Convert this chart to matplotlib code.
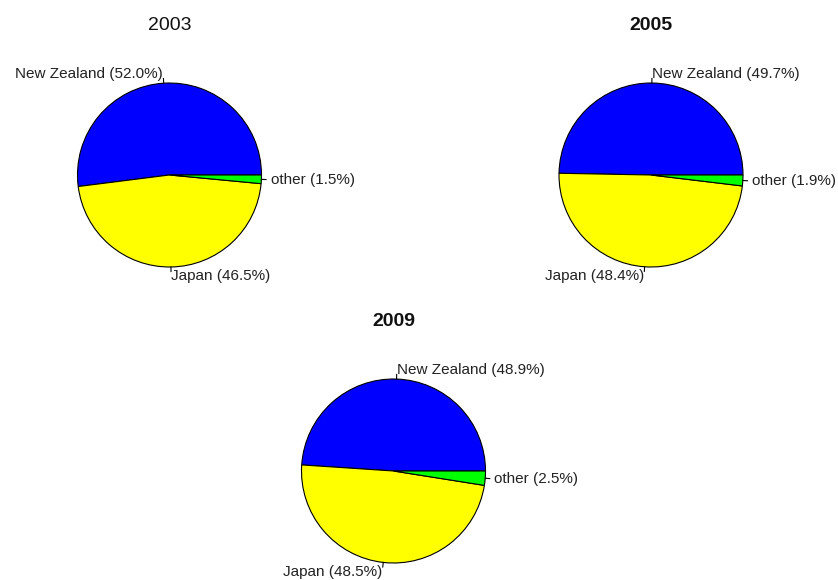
import numpy as np
import matplotlib
matplotlib.use("Agg")
import matplotlib.pyplot as plt

plt.rcParams['font.family'] = ['Liberation Sans', 'DejaVu Sans']

categories = ["New Zealand", "Japan", "other"]
years = ["2003", "2005", "2009"]
shares_2003 = [52.0, 46.5, 1.5]
shares_2005 = [49.7, 48.4, 1.9]
shares_2009 = [48.9, 48.5, 2.5]
colors = ["#0000FF", "#FFFF00", "#00FF00"]

W, H = 838, 580
R = 92  # pie radius in pixels

# centre of each pie (pixels from top-left), title weight
layout = [
  (years[0], shares_2003, 169.5, 175, "normal"),
  (years[1], shares_2005, 651, 175, "bold"),
  (years[2], shares_2009, 393.5, 471, "bold"),
]

fig = plt.figure(figsize=(W / 100, H / 100), dpi=100)

for year, shares, cx, cy, weight in layout:
  ax = fig.add_axes([(cx - R) / W, 1 - (cy + R) / H, 2 * R / W, 2 * R / H])
  labels = [f"{c} ({s:.1f}%)" for c, s in zip(categories, shares)]
  wedges, texts = ax.pie(shares, labels=labels, colors=colors, startangle=0,
                         counterclock=True, labeldistance=1.1,
                         wedgeprops=dict(edgecolor="black", linewidth=0.8),
                         textprops=dict(fontsize=11, color="#222222"))
  for t in texts:
    t.set_clip_on(False)
  # small tick lines from pie edge to labels
  for w in wedges:
    th = np.deg2rad((w.theta1 + w.theta2) / 2)
    ax.plot([np.cos(th), 1.05 * np.cos(th)], [np.sin(th), 1.05 * np.sin(th)],
            color="black", lw=0.8, clip_on=False)
  ax.set_xlim(-1, 1)
  ax.set_ylim(-1, 1)
  ax.set_aspect("equal")
  ax.axis("off")
  ax.text(0, 150 / R, year, ha="center", va="center", fontsize=14,
          fontweight=weight, color="#111111", clip_on=False)

fig.savefig("out.png", dpi=100)
